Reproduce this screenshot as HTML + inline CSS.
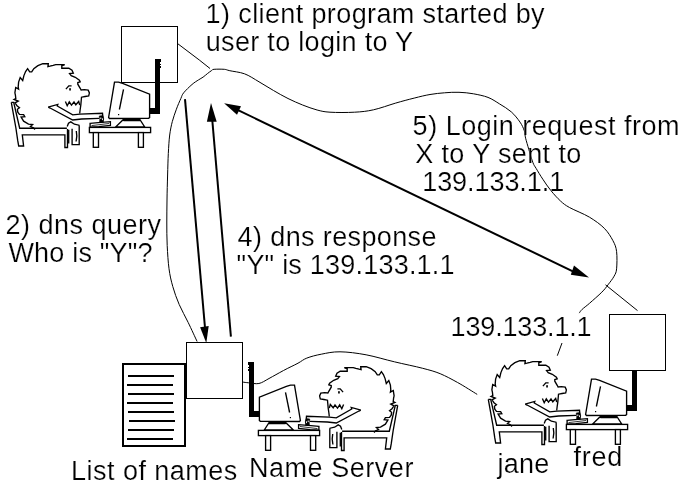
<!DOCTYPE html>
<html><head><meta charset="utf-8">
<style>
html,body{margin:0;padding:0;background:#fff;}
svg{display:block;will-change:transform;}
text{font-family:"Liberation Sans",sans-serif;font-size:27px;fill:#000;stroke:#fff;stroke-width:0.2px;}
</style></head>
<body>
<svg width="689" height="488" viewBox="0 0 689 488">
<defs>
<g id="fig" fill="none" stroke="#000" stroke-width="1.35" stroke-linejoin="miter" stroke-miterlimit="3">
  <path d="M35,129.4 L33.4,127.8 L30.5,126.6 L32.6,124.5 L28.5,124.1 L23.6,121.2 L21.1,117.1 L24.8,116.7 L23.6,114.7 L19.5,114.3 L17.8,112.2 L17.4,109.3 L19.5,107.7 L17,105.7 L15,102.8 L18.2,101.1 L14.1,99.5 L15.8,98.7 L15.4,95 L14.9,92.8 L15.7,87.5 L18.6,89.1 L18.2,87 L18.6,82.1 L20.2,77.6 L22.7,80.5 L23.9,75.6 L25.6,71.5 L27.6,68.6 L29.7,71.9 L31.7,71.9 L33.8,68.6 L37.9,65.7 L42.8,63.7 L48.3,63.7 L47.9,66.6 L49.9,66.2 L53.2,65.4 L55.7,64.6 L64.7,64.6 L61.8,65.8 L61.8,68.2 L68.8,68.2 L72,70.3 L73.3,73.2 L69.6,73.6 L71.2,75.6 L75.3,77.3 L79.4,80.1 L80.2,81.8 L77.8,82.6 L77.8,84.2 L80.2,88.3 L81.1,90 L84.4,89.7 L88.2,90.2 L89.4,92.9 L88.7,95.8 L85.1,96.5 L81.5,97.2 L81.2,100.8 L80.8,105.1 L80.1,110 L79.7,113.5"/>
  <path d="M65.9,89.1 L68.8,85.9 L71.6,85.9"/>
  <rect x="69.2" y="88.2" width="1.7" height="2.3" fill="#000" stroke="none"/>
  <path d="M65.4,101.5 L67.2,105.8 L69.3,101.9 L71.5,105.1 L74,101.9 L75.8,104.8 L78.7,101.5 L79.7,105.1"/>
  <path d="M11.3,102.4 L13.7,102.4 L19.7,128.2 L66.9,128.2 M11.3,102.4 L15.9,128 L17.7,140.4 L18.7,146 L23.6,146 L22.3,134.9 L64.9,134.9 L64.9,147.5 L67.5,147.5 L67.5,129"/>
  <path d="M67.2,126.5 L68.5,123.2 L70.8,121.9 L74.4,124.2 L79,125.2 L79.2,126.5 L79.2,144.6 L72.1,144.6 L72.1,128.8 M68.7,129.8 L68.7,143.6 M76.3,131 L76.8,136 L76.1,141.5"/>
  <path d="M48.1,107.2 L57.8,104.4 L57.3,106 L72.7,114.9 L79.8,114.1 L102.5,113.3 L103.2,120.2 M48.1,107.2 L50.1,108 L72.7,120 L81.6,119 L99,118.4"/>
  <path d="M90.1,123.4 L98.2,122.7 L110.4,121.7 L110.4,125.4 L98.8,126.6 L90.1,127.2 Z" fill="#fff"/><path d="M91.5,125.6 L109,123.5" stroke-width="0.8"/>
  <path d="M99.2,116 L102.8,115.6 L103.6,118.5 L103.4,122.3 L99.6,122.3 L99.8,119 Z" fill="#000" stroke-width="0.6"/><rect x="100.3" y="117.5" width="1" height="1.6" fill="#fff" stroke="none"/><rect x="102" y="118.3" width="0.9" height="1.8" fill="#fff" stroke="none"/>
  <rect x="89.4" y="127.4" width="61.2" height="5.2" fill="#fff"/>
  <rect x="93.3" y="132.6" width="5.2" height="14.7" fill="#fff"/>
  <rect x="138.4" y="132.6" width="5" height="14.7" fill="#fff"/>
  <path d="M123.9,119 L139.5,119 L144.7,127 L115.6,127 Z M123.5,120.5 L140,120.5" fill="#fff"/>
  <path d="M114.5,82.1 L118.5,82.1 L122.6,83.4 L149.6,94.2 L149.6,117.6 L148.5,118.3 L109.5,118.5 L108.6,117.5 Z" fill="#fff"/>
  <path d="M123.5,89.3 L119.4,109.5"/>
  <rect x="118" y="114" width="1.2" height="1.2" fill="#000" stroke="none"/>
</g>
</defs>
<g fill="none" stroke="#000" stroke-width="1">
  <path d="M197.1,341.5 C195.6,338.3 191.2,328.7 188.2,322.5 C185.2,316.3 181.8,310.5 179.2,304.5 C176.6,298.5 174.5,292.6 172.8,286.6 C171.1,280.6 169.9,275.5 169.0,268.7 C168.1,261.9 167.6,253.4 167.2,245.6 C166.8,237.8 166.8,229.6 166.8,222.0 C166.8,214.4 166.9,207.8 167.0,200.0 C167.1,192.2 167.4,182.7 167.6,175.0 C167.8,167.3 168.0,160.3 168.3,153.6 C168.7,146.9 169.0,140.3 169.7,135.0 C170.4,129.7 171.2,125.9 172.3,121.6 C173.4,117.3 175.0,113.1 176.4,109.2 C177.8,105.3 179.7,101.1 180.9,98.4 C182.1,95.7 181.8,95.1 183.7,92.8 C185.5,90.5 189.5,86.7 192.0,84.5 C194.5,82.3 196.7,81.1 198.5,79.9 C200.3,78.7 201.6,78.2 203.1,77.1 C204.6,76.0 206.3,74.5 207.7,73.4 C209.1,72.3 210.3,71.4 211.4,70.7 C212.5,70.0 211.9,69.5 214.1,69.3 C216.2,69.1 221.7,69.1 224.3,69.3 C226.9,69.5 226.4,70.0 229.8,70.7 C233.2,71.5 239.6,72.0 244.5,73.8 C249.4,75.6 254.2,79.0 259.0,81.8 C263.8,84.6 268.7,87.7 273.5,90.5 C278.3,93.3 283.1,96.1 288.0,98.5 C292.9,100.9 297.8,103.1 302.6,105.0 C307.5,106.9 312.5,108.8 317.1,110.0 C321.7,111.2 323.7,111.8 330.0,112.2 C336.3,112.6 347.4,112.6 354.7,112.2 C361.9,111.8 366.7,111.3 373.5,109.8 C380.3,108.3 388.5,105.2 395.3,103.2 C402.1,101.2 408.4,99.5 414.2,98.1 C420.0,96.6 424.9,95.4 430.0,94.5 C435.1,93.6 439.7,93.2 444.5,92.8 C449.3,92.4 454.2,92.1 459.0,92.3 C463.8,92.5 468.7,92.9 473.5,93.8 C478.3,94.7 483.6,95.7 488.0,97.4 C492.4,99.1 495.8,101.6 499.7,104.0 C503.6,106.4 507.9,108.9 511.3,111.9 C514.7,114.9 517.8,118.9 520.0,122.1 C522.2,125.2 523.4,128.1 524.3,130.8 C525.2,133.5 524.8,135.0 525.6,138.2 C526.4,141.3 527.7,145.6 528.9,149.7 C530.1,153.8 531.8,159.7 533.0,162.8 C534.2,165.9 534.6,165.8 536.2,168.5 C537.8,171.2 540.3,175.5 542.8,179.2 C545.3,182.9 548.0,187.1 551.0,190.7 C554.0,194.3 557.4,198.2 560.5,201.0 C563.6,203.8 564.7,204.8 569.5,207.5 C574.3,210.2 583.7,213.7 589.5,217.2 C595.3,220.7 600.4,224.4 604.3,228.3 C608.2,232.2 610.8,236.7 612.9,240.6 C615.0,244.5 616.0,246.9 616.6,251.6 C617.2,256.3 617.0,264.7 616.6,268.8 C616.2,272.9 615.5,273.5 614.1,276.2 C612.7,278.9 610.0,282.1 608.0,284.8 C606.0,287.5 604.9,289.1 601.8,292.2 C598.7,295.3 592.8,300.4 589.5,303.3 C586.2,306.2 583.8,307.8 582.1,309.4 C580.4,311.0 579.7,312.5 579.2,313.1"/>
  <path d="M199.3,60 L210,68.5"/>
  <path d="M178,43.9 L199.3,60"/>
  <path d="M605.5,284.8 L637.5,310.6"/>
  <path d="M557.3,355.7 L562,343"/>
  <path d="M242.9,382.1 C243.9,382.2 246.0,382.6 248.7,382.8 C251.4,383.0 255.5,384.2 258.9,383.5 C262.3,382.8 264.9,380.7 269.0,378.5 C273.1,376.3 278.7,373.1 283.5,370.5 C288.3,367.9 294.1,365.3 298.0,363.2 C301.9,361.1 302.9,359.6 306.8,358.1 C310.7,356.6 315.8,355.2 321.3,354.2 C326.8,353.1 332.5,351.7 340.0,351.8 C347.5,351.9 357.0,353.1 366.1,354.8 C375.2,356.5 385.0,359.6 394.4,361.8 C403.8,364.1 415.1,366.3 422.7,368.3 C430.3,370.3 434.4,371.3 440.2,373.7 C446.0,376.1 451.4,379.1 457.6,382.5 C463.8,385.9 473.9,392.4 477.2,394.4"/>
</g>
<g fill="#fff" stroke="#000" stroke-width="1">
  <rect x="121.5" y="26.5" width="56" height="56"/>
  <rect x="186.5" y="342.5" width="56" height="56"/>
  <rect x="609.5" y="314.5" width="56" height="56"/>
</g>
<rect x="123" y="364" width="62" height="82" fill="#fff" stroke="#000" stroke-width="2"/>
<path stroke="#000" stroke-width="2" d="M128,376H174M127,385H173M128,394H174M127,403H173M128,412H174M129,421H175M128,430H174M127,439H173"/>
<use href="#fig"/>
<use href="#fig" transform="translate(409,303) scale(-1,1)"/>
<use href="#fig" transform="translate(477,297)"/>
<g id="conn" fill="#000">
  <rect x="155" y="59" width="5" height="55"/>
  <rect x="150" y="108" width="10" height="6"/>
  <rect x="160" y="59" width="1" height="3"/>
  <rect x="160" y="64" width="1" height="1"/>
  <rect x="160" y="66" width="1" height="2"/>
</g>
<use href="#conn" transform="translate(409,303) scale(-1,1)"/>
<g fill="#000">
  <rect x="632" y="370" width="5" height="41"/>
  <rect x="627" y="405" width="10" height="6"/>
</g>
<g stroke="#000" stroke-width="2" fill="#000">
  <path d="M185,99.2 L205.2,330" fill="none"/>
  <path d="M200.1,327.2 L208.7,326 L206.3,343 Z" stroke="none"/>
  <path d="M212.1,118 L230.9,336.6" fill="none"/>
  <path d="M211,103 L206.9,121.7 L216.7,121.7 Z" stroke="none"/>
  <path d="M237,109.6 L578,273.8" fill="none"/>
  <path d="M224.1,103.2 L241,106.2 L237,114.8 Z" stroke="none"/>
  <path d="M589,277.5 L574,265.5 L570.8,274.8 Z" stroke="none"/>
</g>
<text x="205.6" y="23.2" textLength="339.0" lengthAdjust="spacing">1) client program started by</text>
<text x="205.8" y="51.2" textLength="207.3" lengthAdjust="spacing">user to login to Y</text>
<text x="412.6" y="134.6" textLength="266.9" lengthAdjust="spacing">5) Login request from</text>
<text x="415.2" y="162.6" textLength="166.1" lengthAdjust="spacing">X to Y sent to</text>
<text x="422.2" y="190.8" textLength="142.0" lengthAdjust="spacing">139.133.1.1</text>
<text x="5.6" y="233.8" textLength="155.5" lengthAdjust="spacing">2) dns query</text>
<text x="8.4" y="261.8" textLength="144.2" lengthAdjust="spacing">Who is &quot;Y&quot;?</text>
<text x="237.6" y="245.6" textLength="198.9" lengthAdjust="spacing">4) dns response</text>
<text x="236.6" y="273.8" textLength="218.0" lengthAdjust="spacing">&quot;Y&quot; is 139.133.1.1</text>
<text x="450.6" y="336.2" textLength="141.0" lengthAdjust="spacing">139.133.1.1</text>
<text x="71.0" y="480.2" textLength="166.3" lengthAdjust="spacing">List of names</text>
<text x="249.0" y="477.2" textLength="164.4" lengthAdjust="spacing">Name Server</text>
<text x="497.6" y="472.6" textLength="51.8" lengthAdjust="spacing">jane</text>
<text x="573.6" y="465.8" textLength="48.8" lengthAdjust="spacing">fred</text>
</svg>
</body></html>
